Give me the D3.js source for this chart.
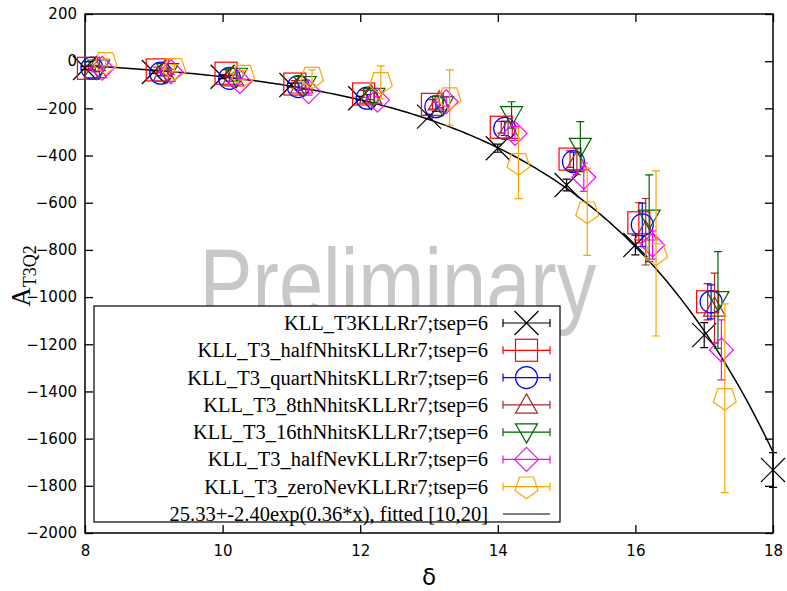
<!DOCTYPE html>
<html lang="en">
<head>
<meta charset="UTF-8" />
<title>A_T3Q2 vs delta</title>
<script src="https://d3js.org/d3.v7.min.js"></script>
<style>
  body { margin: 0; background: #fff; }
  svg { display: block; }
  .tick text { font-family: "DejaVu Sans", sans-serif; font-size: 15px; }
  .leg { font-family: "Liberation Serif", serif; font-size: 20.5px; }
</style>
</head>
<body>
<div id="chart"></div>
<script>
// delta values for each data point
var xs = [8, 9, 10, 11, 12, 13, 14, 15, 16, 17, 18];
var xTicks = [8, 10, 12, 14, 16, 18];
var yTicks = [200, 0, -200, -400, -600, -800, -1000, -1200, -1400, -1600, -1800, -2000];

var names = [
  "KLL_T3KLLRr7;tsep=6",
  "KLL_T3_halfNhitsKLLRr7;tsep=6",
  "KLL_T3_quartNhitsKLLRr7;tsep=6",
  "KLL_T3_8thNhitsKLLRr7;tsep=6",
  "KLL_T3_16thNhitsKLLRr7;tsep=6",
  "KLL_T3_halfNevKLLRr7;tsep=6",
  "KLL_T3_zeroNevKLLRr7;tsep=6"
];
var fitLabel = "25.33+-2.40exp(0.36*x), fitted [10,20]";
var offsets = [0, 0.05, 0.1, 0.15, 0.2, 0.25, 0.3];
var colors = ["#000000", "#ff0000", "#0000ff", "#a52a2a", "#006400", "#ff00ff", "#ffa500"];
var shapes = ["cross", "square", "circle", "tri", "itri", "diamond", "pent"];

var vals = [
  [-29, -46, -66, -101, -157, -235, -369, -525, -779, -1161, -1733],
  [-30, -37, -51, -97, -139, -183, -280, -415, -685, -1020],
  [-29, -51, -73, -108, -157, -193, -285, -426, -694, -1020],
  [-35, -50, -70, -100, -143, -172, -292, -426, -723, -1046],
  [-30, -45, -65, -100, -150, -185, -228, -362, -666, -1012],
  [-30, -45, -87, -129, -165, -172, -306, -492, -779, -1224],
  [-5, -30, -59, -67, -90, -154, -433, -638, -815, -1429]
];
var errs = [
  [6, 6, 8, 8, 8, 10, 17, 25, 42, 53, 74],
  [10, 12, 15, 15, 15, 20, 25, 35, 85, 77],
  [8, 10, 12, 15, 15, 20, 30, 40, 92, 72],
  [10, 12, 15, 18, 20, 25, 35, 55, 141, 148],
  [12, 15, 18, 20, 25, 30, 56, 106, 184, 205],
  [10, 10, 12, 15, 15, 20, 30, 60, 60, 127],
  [15, 15, 20, 30, 70, 117, 150, 185, 350, 400]
];

// fit a + b*exp(c*x)
var fitA = 25.33, fitB = -2.40, fitC = 0.364;

var W = 787, H = 591;
var L = 85, R = 773, T = 14, B = 533;

var svg = d3.select("#chart").append("svg").attr("width", W).attr("height", H);

var x = d3.scaleLinear().domain([8, 18]).range([L, R]);
var y = d3.scaleLinear().domain([-2000, 200]).range([B, T]);

// watermark
svg.append("text")
  .attr("x", 398).attr("y", 316)
  .attr("text-anchor", "middle")
  .attr("font-family", "Liberation Sans, sans-serif")
  .attr("font-size", 96)
  .attr("textLength", 397)
  .attr("lengthAdjust", "spacingAndGlyphs")
  .attr("fill", "#c8c8c8")
  .text("Preliminary");

// axes with inward ticks
svg.append("g").attr("transform", "translate(" + L + ",0)")
  .call(d3.axisLeft(y).tickValues(yTicks).tickSize(-8).tickPadding(8).tickFormat(d3.format("d")))
  .call(function(g) { g.select(".domain").remove(); });
svg.append("g").attr("transform", "translate(" + R + ",0)")
  .call(d3.axisRight(y).tickValues(yTicks).tickSize(-8).tickFormat(""))
  .call(function(g) { g.select(".domain").remove(); });
svg.append("g").attr("transform", "translate(0," + B + ")")
  .call(d3.axisBottom(x).tickValues(xTicks).tickSize(-8).tickPadding(12).tickFormat(d3.format("d")))
  .call(function(g) { g.select(".domain").remove(); });
svg.append("g").attr("transform", "translate(0," + T + ")")
  .call(d3.axisTop(x).tickValues(xTicks).tickSize(-8).tickFormat(""))
  .call(function(g) { g.select(".domain").remove(); });
svg.selectAll(".tick line").attr("stroke", "#000").attr("stroke-width", 1.3);
svg.selectAll(".tick text").attr("fill", "#000");

svg.append("rect").attr("x", L).attr("y", T).attr("width", R - L).attr("height", B - T)
  .attr("fill", "none").attr("stroke", "#000").attr("stroke-width", 1.5);

// axis labels
svg.append("text").attr("x", (L + R) / 2).attr("y", 585).attr("text-anchor", "middle")
  .attr("font-family", "DejaVu Sans, sans-serif").attr("font-size", 23).text("δ");
var yl = svg.append("text").attr("transform", "translate(30,276) rotate(-90)")
  .attr("text-anchor", "middle").attr("font-family", "Liberation Serif, serif");
yl.append("tspan").attr("font-size", 27).text("A");
yl.append("tspan").attr("font-size", 18).attr("dy", 6).text("T3Q2");

// markers
function marker(g, shape, color, cx, cy) {
  var s = 11;
  if (shape == "cross") {
    g.append("path").attr("d", "M" + (cx - 12) + "," + (cy - 12) + "L" + (cx + 12) + "," + (cy + 12) +
      "M" + (cx - 12) + "," + (cy + 12) + "L" + (cx + 12) + "," + (cy - 12))
      .attr("stroke", color).attr("stroke-width", 1.2).attr("fill", "none");
    return;
  }
  var p;
  if (shape == "square") {
    p = g.append("rect").attr("x", cx - s).attr("y", cy - s).attr("width", 2 * s).attr("height", 2 * s);
  } else if (shape == "circle") {
    p = g.append("circle").attr("cx", cx).attr("cy", cy).attr("r", s);
  } else {
    var pts;
    if (shape == "tri") pts = [[0, -s], [s, s * 0.75], [-s, s * 0.75]];
    if (shape == "itri") pts = [[0, s], [s, -s * 0.75], [-s, -s * 0.75]];
    if (shape == "diamond") pts = [[0, -12], [12, 0], [0, 12], [-12, 0]];
    if (shape == "pent") pts = d3.range(5).map(function(i) {
      var a = Math.PI / 5 + i * 2 * Math.PI / 5 + Math.PI / 2;
      return [12 * Math.cos(a), -12 * Math.sin(a)];
    });
    p = g.append("polygon").attr("points", pts.map(function(q) { return (cx + q[0]) + "," + (cy + q[1]); }).join(" "));
  }
  p.attr("stroke", color).attr("stroke-width", 1.2).attr("fill", "none");
}

// fit curve
var clip = svg.append("clipPath").attr("id", "clip").append("rect")
  .attr("x", L).attr("y", T).attr("width", R - L).attr("height", B - T);
var fitPts = d3.range(8, 18.001, 0.05).map(function(v) { return [v, fitA + fitB * Math.exp(fitC * v)]; });
svg.append("path").attr("clip-path", "url(#clip)")
  .attr("d", d3.line().x(function(d) { return x(d[0]); }).y(function(d) { return y(d[1]); })(fitPts))
  .attr("fill", "none").attr("stroke", "#000").attr("stroke-width", 1.5);

// data series
var cap = 4;
vals.forEach(function(series, si) {
  var g = svg.append("g");
  series.forEach(function(v, i) {
    var cx = x(xs[i] + offsets[si]);
    var y0 = y(v - errs[si][i]), y1 = y(v + errs[si][i]);
    g.append("path").attr("d", "M" + cx + "," + y0 + "V" + y1 +
        "M" + (cx - cap) + "," + y0 + "H" + (cx + cap) + "M" + (cx - cap) + "," + y1 + "H" + (cx + cap))
      .attr("stroke", colors[si]).attr("stroke-width", 1.2).attr("fill", "none");
    marker(g, shapes[si], colors[si], cx, y(v));
  });
});

// legend
var lg = svg.append("g");
lg.append("rect").attr("x", 94).attr("y", 306).attr("width", 466).attr("height", 216)
  .attr("fill", "#fff").attr("stroke", "#000").attr("stroke-width", 1.2);
var rowY = d3.scalePoint().domain(d3.range(8)).range([323, 514]);
names.forEach(function(n, i) {
  var yy = rowY(i);
  lg.append("text").attr("class", "leg").attr("x", 488).attr("y", yy + 7)
    .attr("text-anchor", "end").text(n);
  lg.append("path").attr("d", "M503," + yy + "H550M503," + (yy - cap) + "V" + (yy + cap) +
      "M550," + (yy - cap) + "V" + (yy + cap))
    .attr("stroke", colors[i]).attr("stroke-width", 1.2);
  marker(lg, shapes[i], colors[i], 526.5, yy);
});
lg.append("text").attr("class", "leg").attr("x", 488).attr("y", rowY(7) + 7)
  .attr("text-anchor", "end").text(fitLabel);
lg.append("line").attr("x1", 503).attr("x2", 550).attr("y1", rowY(7)).attr("y2", rowY(7))
  .attr("stroke", "#000").attr("stroke-width", 1.2);
</script>
</body>
</html>
